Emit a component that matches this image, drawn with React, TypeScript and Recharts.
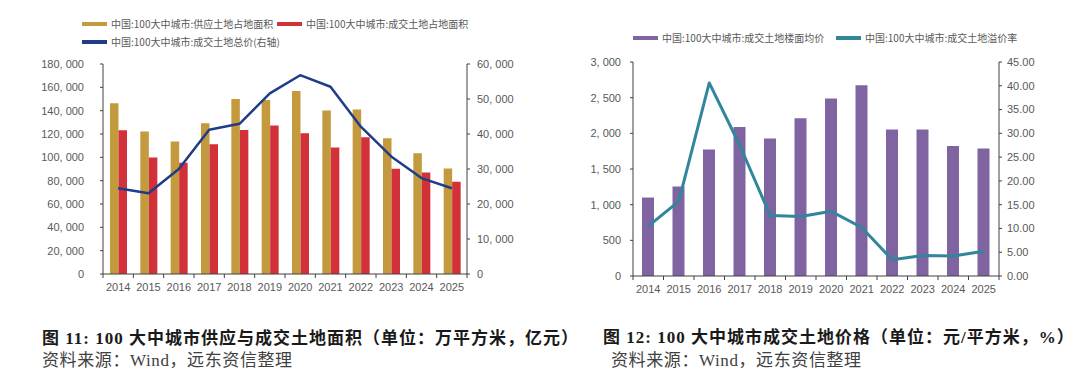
import React from 'react'
import { ComposedChart, Bar, Line, XAxis, YAxis } from 'recharts'

const YEARS = ['2014', '2015', '2016', '2017', '2018', '2019', '2020', '2021', '2022', '2023', '2024', '2025']

// 图11
const SUPPLY_AREA = [146400, 122100, 113600, 129200, 150100, 149200, 156900, 140100, 140900, 116400, 103600, 90400]
const DEAL_AREA = [123300, 99900, 95300, 111300, 123500, 127200, 120700, 108400, 117300, 90200, 87000, 79000]
const DEAL_TOTAL = [24500, 23100, 30000, 41200, 42900, 51600, 56800, 53500, 42100, 33600, 27400, 24500]
const LEFT_TICKS_1 = [0, 20000, 40000, 60000, 80000, 100000, 120000, 140000, 160000, 180000]
const RIGHT_TICKS_1 = [0, 10000, 20000, 30000, 40000, 50000, 60000]

// 图12
const FLOOR_PRICE = [1100, 1255, 1774, 2088, 1929, 2210, 2490, 2673, 2052, 2052, 1824, 1786]
const PREMIUM_RATE = [10.5, 15.7, 40.6, 27.5, 12.7, 12.5, 13.6, 10.2, 3.4, 4.3, 4.2, 5.2]
const LEFT_TICKS_2 = [0, 500, 1000, 1500, 2000, 2500, 3000]
const RIGHT_TICKS_2 = [0, 5, 10, 15, 20, 25, 30, 35, 40, 45]

const GOLD = '#C39A3E'
const RED = '#D3313A'
const NAVY = '#1F3C88'
const PURPLE = '#8064A2'
const TEAL = '#31869B'
const AXIS = '#404040'
const TICK_TEXT = '#595959'
const TICK_FONT = '"Liberation Sans", Arial, sans-serif'
const CJK = '"Noto Sans CJK SC", sans-serif'
const CAPTION_FONT = '"Liberation Serif", "Noto Sans CJK SC", serif'

const chart1 = YEARS.map((y, i) => ({ year: y, supply: SUPPLY_AREA[i], deal: DEAL_AREA[i], total: DEAL_TOTAL[i] }))
const chart2 = YEARS.map((y, i) => ({ year: y, price: FLOOR_PRICE[i], rate: PREMIUM_RATE[i] }))

const thousands = (v: number) => {
  const s = String(v)
  return s.length > 3 ? s.slice(0, -3) + ', ' + s.slice(-3) : s
}

// x轴刻度线画在类目之间
function makeXTick(bandWidth: number, count: number) {
  return function XTick(props: any) {
    const { x, y, payload, index } = props
    const axisY = y - 9
    return (
      <g>
        <line x1={x - bandWidth / 2} x2={x - bandWidth / 2} y1={axisY} y2={axisY + 4} stroke={AXIS} />
        {index === count - 1 && (
          <line x1={x + bandWidth / 2} x2={x + bandWidth / 2} y1={axisY} y2={axisY + 4} stroke={AXIS} />
        )}
        <text x={x} y={y} dy="0.71em" textAnchor="middle" fill={TICK_TEXT} fontSize={11} fontFamily={TICK_FONT}>
          {payload.value}
        </text>
      </g>
    )
  }
}

function LegendItem({ color, label, left, top }: { color: string; label: string; left: number; top: number }) {
  return (
    <div style={{ position: 'absolute', left, top, display: 'flex', alignItems: 'center', whiteSpace: 'nowrap' }}>
      <div style={{ width: 25, height: 4, background: color, marginRight: 4 }} />
      <span style={{ fontSize: 10, color: TICK_TEXT, fontFamily: CJK, lineHeight: '12px' }}>{label}</span>
    </div>
  )
}

const tickStyle = { fontSize: 11, fill: TICK_TEXT, fontFamily: TICK_FONT }

const captionStyle: React.CSSProperties = {
  position: 'absolute', fontSize: 17, fontWeight: 'bold', color: '#1a1a1a', fontFamily: CAPTION_FONT,
  whiteSpace: 'nowrap', lineHeight: '20px', letterSpacing: 1,
}
const sourceStyle: React.CSSProperties = {
  position: 'absolute', fontSize: 17, color: '#404040', fontFamily: CAPTION_FONT,
  whiteSpace: 'nowrap', lineHeight: '20px', letterSpacing: 0.6,
}

export default function App() {
  return (
    <div style={{ position: 'absolute', left: 0, top: 0, width: 1080, height: 379, background: '#fff', overflow: 'hidden' }}>
      {/* 图11 */}
      <LegendItem color={GOLD} label="中国:100大中城市:供应土地占地面积" left={82} top={18} />
      <LegendItem color={RED} label="中国:100大中城市:成交土地占地面积" left={277} top={18} />
      <LegendItem color={NAVY} label="中国:100大中城市:成交土地总价(右轴)" left={82} top={36} />
      <div style={{ position: 'absolute', left: 0, top: 0 }}>
        <ComposedChart width={540} height={300} data={chart1} margin={{ top: 64, right: 13, left: 0, bottom: 4 }} barGap={0}>
          <XAxis
            dataKey="year"
            axisLine={{ stroke: AXIS }}
            tickLine={false}
            tickSize={0}
            tickMargin={9}
            height={22}
            interval={0}
            tick={makeXTick(364 / 12, 12)}
          />
          <YAxis
            yAxisId="left"
            width={103}
            domain={[0, 180000]}
            ticks={LEFT_TICKS_1}
            tickFormatter={thousands}
            axisLine={{ stroke: AXIS }}
            tickLine={{ stroke: AXIS }}
            tickSize={3}
            tickMargin={16}
            tick={tickStyle}
            interval={0}
          />
          <YAxis
            yAxisId="right"
            orientation="right"
            width={60}
            domain={[0, 60000]}
            ticks={RIGHT_TICKS_1}
            tickFormatter={thousands}
            axisLine={{ stroke: AXIS }}
            tickLine={{ stroke: AXIS }}
            tickSize={3}
            tickMargin={7}
            tick={{ ...tickStyle, textAnchor: 'start' }}
            interval={0}
          />
          <Bar yAxisId="left" dataKey="supply" fill={GOLD} barSize={8.5} isAnimationActive={false} />
          <Bar yAxisId="left" dataKey="deal" fill={RED} barSize={8.5} isAnimationActive={false} />
          <Line yAxisId="right" type="linear" dataKey="total" stroke={NAVY} strokeWidth={2.5} strokeLinejoin="round" dot={false} isAnimationActive={false} />
        </ComposedChart>
      </div>

      {/* 图12 */}
      <LegendItem color={PURPLE} label="中国:100大中城市:成交土地楼面均价" left={633} top={32} />
      <LegendItem color={TEAL} label="中国:100大中城市:成交土地溢价率" left={836} top={32} />
      <div style={{ position: 'absolute', left: 540, top: 0 }}>
        <ComposedChart width={540} height={300} data={chart2} margin={{ top: 62, right: 21, left: 0, bottom: 4 }}>
          <XAxis
            dataKey="year"
            axisLine={{ stroke: AXIS }}
            tickLine={false}
            tickSize={0}
            tickMargin={9}
            height={20}
            interval={0}
            tick={makeXTick(366 / 12, 12)}
          />
          <YAxis
            yAxisId="left"
            width={93}
            domain={[0, 3000]}
            ticks={LEFT_TICKS_2}
            tickFormatter={thousands}
            axisLine={{ stroke: AXIS }}
            tickLine={{ stroke: AXIS }}
            tickSize={3}
            tickMargin={9}
            tick={tickStyle}
            interval={0}
          />
          <YAxis
            yAxisId="right"
            orientation="right"
            width={60}
            domain={[0, 45]}
            ticks={RIGHT_TICKS_2}
            tickFormatter={(v: number) => v.toFixed(2)}
            axisLine={{ stroke: AXIS }}
            tickLine={{ stroke: AXIS }}
            tickSize={3}
            tickMargin={5}
            tick={{ ...tickStyle, textAnchor: 'start' }}
            interval={0}
          />
          <Bar yAxisId="left" dataKey="price" fill={PURPLE} barSize={12} isAnimationActive={false} />
          <Line yAxisId="right" type="linear" dataKey="rate" stroke={TEAL} strokeWidth={3} strokeLinejoin="round" dot={false} isAnimationActive={false} />
        </ComposedChart>
      </div>

      {/* 标题与来源 */}
      <div style={{ ...captionStyle, left: 42, top: 329 }}>图 11: 100 大中城市供应与成交土地面积（单位：万平方米，亿元）</div>
      <div style={{ ...sourceStyle, left: 42, top: 351 }}>资料来源：Wind，远东资信整理</div>
      <div style={{ ...captionStyle, left: 603, top: 328 }}>图 12: 100 大中城市成交土地价格（单位：元/平方米，%）</div>
      <div style={{ ...sourceStyle, left: 611, top: 351 }}>资料来源：Wind，远东资信整理</div>
    </div>
  )
}
